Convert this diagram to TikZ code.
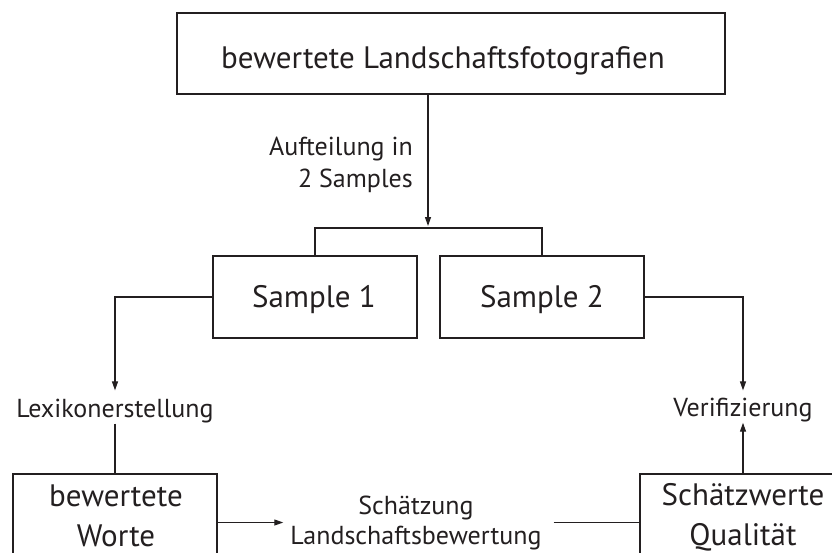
\documentclass[tikz,border=0pt]{standalone}
\usepackage{fontspec}
\setmainfont{PT Sans}
\usetikzlibrary{arrows.meta}
\definecolor{ink}{HTML}{231F20}
\begin{document}
\begin{tikzpicture}[x=1pt,y=-1pt,color=ink,
  frame/.style={draw, line width=1.2pt, inner sep=0pt},
  big/.style={font=\fontsize{31}{40}\selectfont, inner sep=0pt},
  small/.style={font=\fontsize{26}{32}\selectfont, inner sep=0pt},
  arr/.style={-{Triangle[length=9pt,width=6pt]}, line width=1.2pt},
  lin/.style={line width=1.2pt}]
\clip (0,0) rectangle (832,552);
% boxes
\node[frame, minimum width=548, minimum height=81] (top) at (451,53.5) {};
\node[big, anchor=base] (topt) at (443,68) {bewertete Landschaftsfotografien};
\node[frame, minimum width=204, minimum height=82] (s1) at (315,297) {};
\node[big, anchor=base] (s1t) at (314,307) {Sample 1};
\node[frame, minimum width=204, minimum height=82] (s2) at (542,297) {};
\node[big, anchor=base] (s2t) at (542,307) {Sample 2};
\node[frame, minimum width=204, minimum height=130] (bw) at (115,539) {};
\node[big, align=center, anchor=base] (bwt) at (116,546) {bewertete\\Worte};
\node[frame, minimum width=204, minimum height=130] (sq) at (742,539) {};
\node[big, align=center, anchor=base] (sqt) at (743,545) {Schätzwerte\\Qualität};
% labels
\node[small, align=right, anchor=base east] (auf) at (413,187) {Aufteilung in\\2 Samples};
\node[small, anchor=base] (lex) at (115,417) {Lexikonerstellung};
\node[small, anchor=base] (ver) at (743,416) {Verifizierung};
\node[font=\fontsize{26}{30}\selectfont, inner sep=0pt, align=center, anchor=base] (est) at (416,544) {Schätzung\\Landschaftsbewertung};
% connectors
\coordinate (split) at (428,228);
\draw[arr] (top.south -| split) -- ([yshift=2pt]split);
\draw[lin] (s1.north) -- (s1.north |- split) -- (s2.north |- split) -- (s2.north);
\draw[arr, shorten >=8pt] (s1.west) -- (s1.west -| lex) -- (lex.north);
\draw[lin, shorten <=1pt] (lex.south) -- (lex.south |- bw.north);
\draw[arr, shorten >=7pt] (s2.east) -- (s2.east -| ver) -- (ver.north);
\draw[arr, shorten >=1pt] (ver.south |- sq.north) -- (ver.south);
\draw[arr, shorten >=7pt] (bw.east |- est) -- (est.west);
\draw[lin, shorten <=12pt] (est.east) -- (est.east -| sq.west);
\end{tikzpicture}
\end{document}
